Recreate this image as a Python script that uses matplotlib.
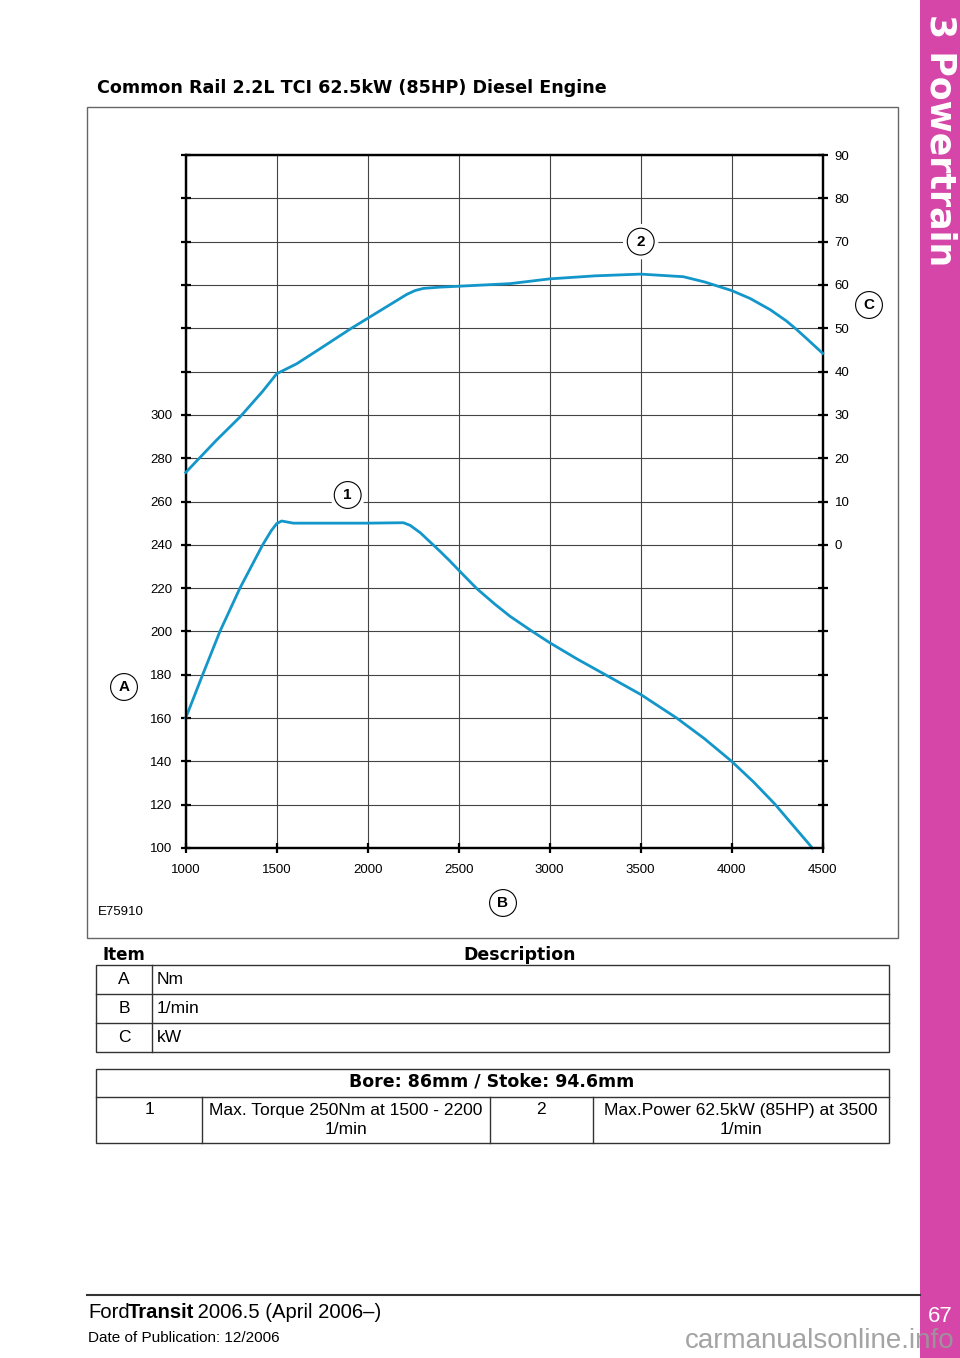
import numpy as np
import matplotlib.pyplot as plt
from matplotlib.patches import Rectangle

# engine speed (1/min), torque (Nm), power (kW)
rpm_torque = [1000, 1093, 1188, 1298, 1423, 1470, 1500, 1527, 1591, 1800, 2000, 2196, 2233,
              2290, 2343, 2400, 2452, 2500, 2599, 2700, 2782, 2901, 3000, 3150, 3304,
              3500, 3698, 3850, 4000, 4120, 4238, 4443]
torque_nm = [160, 180, 200, 220, 240, 246.5, 249.8, 251, 250, 250, 250, 250.2, 249,
             245.5, 241.3, 236.8, 232.5, 228.3, 219.8, 212.5, 207, 200.2, 194.8, 187.3, 180.1,
             170.9, 160, 150.5, 140, 130.5, 120.2, 100]

rpm_power = [1000, 1170, 1298, 1420, 1500, 1610, 1750, 1903, 2000, 2214, 2260, 2306, 2400,
             2500, 2782, 3000, 3250, 3500, 3734, 3850, 4000, 4100, 4211, 4300, 4357, 4420, 4500]
power_kw = [16.7, 24.2, 29.5, 35.3, 39.5, 41.8, 45.6, 49.8, 52.3, 57.8, 58.7, 59.2, 59.5,
            59.7, 60.3, 61.4, 62.1, 62.5, 61.9, 60.7, 58.7, 56.9, 54.3, 51.7, 49.7, 47.3, 44.2]

rpm_ticks = [1000, 1500, 2000, 2500, 3000, 3500, 4000, 4500]
nm_ticks = list(range(100, 421, 20))
nm_labels = [str(v) if v <= 300 else '' for v in nm_ticks]
kw_ticks = list(range(-60, 91, 10))
kw_labels = [str(v) if v >= 0 else '' for v in kw_ticks]

legend_items = ['A', 'B', 'C']
legend_desc = ['Nm', '1/min', 'kW']

W, H = 960, 1358
BLUE = '#1396c9'
PINK = '#d546a8'
plt.rcParams['font.family'] = ['Liberation Sans', 'DejaVu Sans']

fig = plt.figure(figsize=(W / 100, H / 100), dpi=100)

# page layer in pixel coordinates
bg = fig.add_axes([0, 0, 1, 1])
bg.set_xlim(0, W)
bg.set_ylim(H, 0)
bg.axis('off')

# chart
x0, x1, ytop, ybot = 185.7, 822.7, 155, 848
ax = fig.add_axes([x0 / W, 1 - ybot / H, (x1 - x0) / W, (ybot - ytop) / H])
ax.set_xlim(1000, 4500)
ax.set_ylim(100, 420)
ax.set_xticks(rpm_ticks)
ax.set_xticklabels([str(v) for v in rpm_ticks])
ax.set_yticks(nm_ticks)
ax.set_yticklabels(nm_labels)
ax.grid(True, color='#444444', lw=0.8)
ax.set_axisbelow(True)
for s in ax.spines.values():
    s.set_linewidth(1.6)
ax.tick_params(direction='inout', length=7, width=1.6, labelsize=9.5, colors='black')
ax.tick_params(axis='x', pad=8)
ax.tick_params(axis='y', pad=6)

ax2 = ax.twinx()
ax2.set_ylim(-70, 90)
ax2.set_yticks(kw_ticks)
ax2.set_yticklabels(kw_labels)
ax2.tick_params(direction='inout', length=7, width=1.6, labelsize=9.5, pad=5)
for s in ax2.spines.values():
    s.set_linewidth(1.6)

ax.plot(rpm_torque, torque_nm, color=BLUE, lw=2.0, zorder=5, clip_on=False,
        solid_joinstyle='round')
ax2.plot(rpm_power, power_kw, color=BLUE, lw=2.0, zorder=5, clip_on=False,
         solid_joinstyle='round')

def callout(axis, x, y, s, halo=True):
    if halo:
        axis.text(x, y, s, ha='center', va='center', fontsize=11, color='white', zorder=6,
                  bbox=dict(boxstyle='circle,pad=0.7', fc='white', ec='none'))
    axis.text(x, y, s, ha='center', va='center', fontsize=11, fontweight='bold', zorder=7,
              bbox=dict(boxstyle='circle,pad=0.42', fc='white', ec='black', lw=0.8))

callout(ax, 1890, 263, '1')
callout(ax2, 3500, 70, '2')

for (x, y), s in zip([(124, 687), (503, 903), (869, 305)], legend_items):
    bg.text(x, y, s, ha='center', va='center', fontsize=11, fontweight='bold',
            bbox=dict(boxstyle='circle,pad=0.42', fc='white', ec='black', lw=0.8))

# frame, title, figure id
bg.add_patch(Rectangle((87, 107), 811, 831, fill=False, ec='#666666', lw=1))
bg.text(97, 88, 'Common Rail 2.2L TCI 62.5kW (85HP) Diesel Engine', ha='left', va='center',
        fontsize=12.6, fontweight='bold', family='DejaVu Sans')
bg.text(98, 912, 'E75910', ha='left', va='center', fontsize=9.5)

# item table
bg.text(102, 955, 'Item', ha='left', va='center', fontsize=12, fontweight='bold', family='DejaVu Sans')
bg.text(520, 955, 'Description', ha='center', va='center', fontsize=12.5, fontweight='bold',
        family='DejaVu Sans')
bg.add_patch(Rectangle((96, 965), 793, 87, fill=False, ec='#333333', lw=1))
for y in [994, 1023]:
    bg.plot([96, 889], [y, y], color='#333333', lw=1)
bg.plot([152, 152], [965, 1052], color='#333333', lw=1)
for i, (k, d) in enumerate(zip(legend_items, legend_desc)):
    yc = 979.5 + 29 * i
    bg.text(124, yc, k, ha='center', va='center', fontsize=12.5)
    bg.text(157, yc, d, ha='left', va='center', fontsize=12.5)

# bore / stroke table
bg.add_patch(Rectangle((96, 1069), 793, 74, fill=False, ec='#333333', lw=1))
bg.plot([96, 889], [1097, 1097], color='#333333', lw=1)
for x in [202, 490, 593]:
    bg.plot([x, x], [1097, 1143], color='#333333', lw=1)
bg.text(492, 1082, 'Bore: 86mm / Stoke: 94.6mm', ha='center', va='center', fontsize=12.5,
        fontweight='bold', family='DejaVu Sans')
bg.text(149, 1110, '1', ha='center', va='center', fontsize=12.5)
bg.text(541, 1110, '2', ha='center', va='center', fontsize=12.5)
bg.text(346, 1110, 'Max. Torque 250Nm at 1500 - 2200', ha='center', va='center', fontsize=12.5)
bg.text(346, 1129, '1/min', ha='center', va='center', fontsize=12.5)
bg.text(741, 1110, 'Max.Power 62.5kW (85HP) at 3500', ha='center', va='center', fontsize=12.5)
bg.text(741, 1129, '1/min', ha='center', va='center', fontsize=12.5)

# side bar and footer
bg.add_patch(Rectangle((920, 0), 40, H, fc=PINK, ec='none'))
bg.text(940, 14, '3 Powertrain', rotation=-90, ha='center', va='top', fontsize=25,
        fontweight='bold', color='white', family='DejaVu Sans')
bg.text(940, 1317, '67', ha='center', va='center', fontsize=16, color='white')
bg.plot([87, 920], [1295, 1295], color='#333333', lw=1.5)

r = fig.canvas.get_renderer()
xpos = 88
for s, w in [('Ford', 'normal'), ('Transit', 'bold'), (' 2006.5 (April 2006\u2013)', 'normal')]:
    t = bg.text(xpos, 1313, s, ha='left', va='center', fontsize=14.6, fontweight=w)
    xpos += t.get_window_extent(renderer=r).width - 2
bg.text(88, 1338, 'Date of Publication: 12/2006', ha='left', va='center', fontsize=11)
bg.text(955, 1341, 'carmanualsonline.info', ha='right', va='center', fontsize=20,
        color='#9a9a9a', alpha=0.9)

fig.savefig('out.png', dpi=100)
